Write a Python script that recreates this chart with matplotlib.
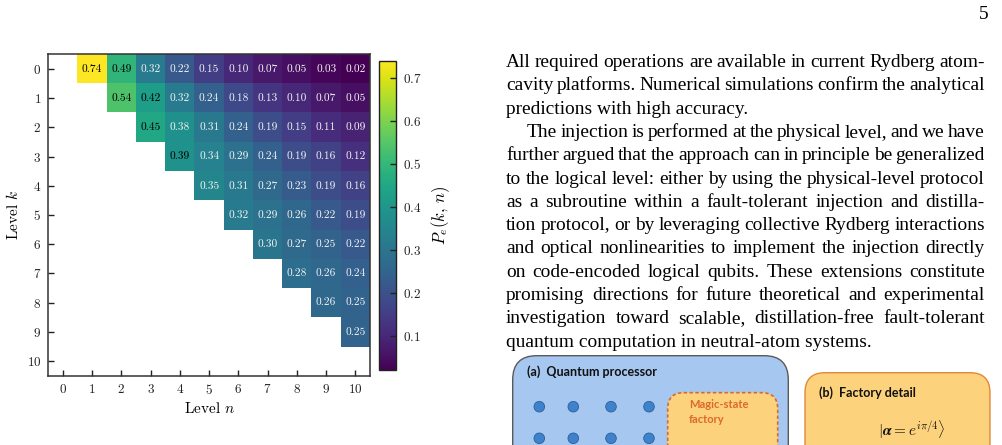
import numpy as np
import matplotlib
matplotlib.use("Agg")
import matplotlib.pyplot as plt
from matplotlib.patches import FancyBboxPatch, Circle

plt.rcParams['font.family'] = 'serif'
plt.rcParams['font.serif'] = ['cmr10']
plt.rcParams['mathtext.fontset'] = 'cm'
plt.rcParams['axes.formatter.use_mathtext'] = True

# Level n on x, level k on y
n_levels = list(range(11))
k_levels = list(range(11))

# P_e(k, n), row k holds values for n = k+1 ... 10
pe_row0 = [0.74, 0.49, 0.32, 0.22, 0.15, 0.10, 0.07, 0.05, 0.03, 0.02]
pe_row1 = [0.54, 0.42, 0.32, 0.24, 0.18, 0.13, 0.10, 0.07, 0.05]
pe_row2 = [0.45, 0.38, 0.31, 0.24, 0.19, 0.15, 0.11, 0.09]
pe_row3 = [0.39, 0.34, 0.29, 0.24, 0.19, 0.16, 0.12]
pe_row4 = [0.35, 0.31, 0.27, 0.23, 0.19, 0.16]
pe_row5 = [0.32, 0.29, 0.26, 0.22, 0.19]
pe_row6 = [0.30, 0.27, 0.25, 0.22]
pe_row7 = [0.28, 0.26, 0.24]
pe_row8 = [0.26, 0.25]
pe_row9 = [0.25]
pe_rows = [pe_row0, pe_row1, pe_row2, pe_row3, pe_row4,
           pe_row5, pe_row6, pe_row7, pe_row8, pe_row9]
cbar_ticks = [0.1, 0.2, 0.3, 0.4, 0.5, 0.6, 0.7]

# page text next to the figure
page_lines = [
    ("All required operations are available in current Rydberg atom-", True, False),
    ("cavity platforms.  Numerical simulations confirm the analytical", True, False),
    ("predictions with high accuracy.", False, False),
    ("The injection is performed at the physical level, and we have", True, True),
    ("further argued that the approach can in principle be generalized", True, False),
    ("to the logical level:  either by using the physical-level protocol", True, False),
    ("as a subroutine within a fault-tolerant injection and distilla-", True, False),
    ("tion protocol, or by leveraging collective Rydberg interactions", True, False),
    ("and optical nonlinearities to implement the injection directly", True, False),
    ("on code-encoded logical qubits.  These extensions constitute", True, False),
    ("promising directions for future theoretical and experimental", True, False),
    ("investigation toward scalable, distillation-free fault-tolerant", True, False),
    ("quantum computation in neutral-atom systems.", False, False),
]

W, H = 1002, 445
fig = plt.figure(figsize=(W / 100, H / 100), dpi=100)

# background axes in pixel units for page text and the diagram
bg = fig.add_axes([0, 0, 1, 1])
bg.set_xlim(0, W)
bg.set_ylim(H, 0)
bg.axis('off')

# heatmap
mat = np.full((len(k_levels), len(n_levels)), np.nan)
for k, row in enumerate(pe_rows):
    for j, v in enumerate(row):
        mat[k, k + 1 + j] = v

ax = fig.add_axes([48.3 / W, (H - 375.7) / H, 321.7 / W, 321.4 / H])
im = ax.imshow(np.ma.masked_invalid(mat), cmap='viridis', vmin=0.02, vmax=0.74,
               aspect='auto', interpolation='nearest')
for k in k_levels:
    for n in n_levels:
        v = mat[k, n]
        if not np.isnan(v):
            ax.text(n, k, f"{v:.2f}", ha='center', va='center', fontsize=8.2,
                    color='black' if v > 0.385 else '#f2f2f2')
ax.set_xticks(n_levels)
ax.set_yticks(k_levels)
ax.tick_params(direction='in', length=4, width=1, colors='#222', labelsize=9.5, pad=5)
for s in ax.spines.values():
    s.set_color('#333')
    s.set_linewidth(1.1)
ax.set_xlabel(r'Level $n$', fontsize=11, labelpad=3)
ax.set_ylabel(r'Level $k$', fontsize=11, labelpad=4)

cax = fig.add_axes([379.3 / W, (H - 370) / H, 16.4 / W, 309.3 / H])
cb = fig.colorbar(im, cax=cax)
cb.set_ticks(cbar_ticks)
cb.outline.set_edgecolor('#222')
cb.outline.set_linewidth(1.0)
cax.tick_params(direction='in', length=4, width=1, colors='#222', labelsize=9.5, pad=5)
cb.set_label(r'$P_e(k,\,n)$', fontsize=12, labelpad=6)

# page text, justified
renderer = fig.canvas.get_renderer()
serif = 'Liberation Serif'


def text_width(s, size):
    t = bg.text(0, 0, s, fontsize=size, family=serif)
    w = t.get_window_extent(renderer).width
    t.remove()
    return w


fs = 10 * 242 / text_width("predictions with high accuracy.", 10)
x_left, x_right, indent = 506, 985, 21
y0, dy = 67, 23.3
for i, (line, justify, ind) in enumerate(page_lines):
    y = y0 + i * dy
    x = x_left + (indent if ind else 0)
    if not justify:
        bg.text(x, y, line, fontsize=fs, family=serif, ha='left', va='baseline')
        continue
    words = line.split()
    widths = [text_width(w_, fs) for w_ in words]
    gap = (x_right - x - sum(widths)) / (len(words) - 1)
    for w_, wd in zip(words, widths):
        bg.text(x, y, w_, fontsize=fs, family=serif, ha='left', va='baseline')
        x += wd + gap

bg.text(989, 19, "5", fontsize=fs, family=serif, ha='right', va='baseline')

# schematic at the bottom right (cut by the page edge)
bg.add_patch(FancyBboxPatch((512.7, 355.7), 275.6, 200,
                            boxstyle="round,pad=0,rounding_size=24",
                            fc='#a6c7ef', ec='#5a5a5a', lw=1.0))
bg.add_patch(FancyBboxPatch((667.7, 392.7), 110, 150,
                            boxstyle="round,pad=0,rounding_size=16",
                            fc='#fdd27c', ec='#d9692b', lw=1.2, ls=(0, (2, 1.5))))
bg.add_patch(FancyBboxPatch((805, 372.7), 185, 180,
                            boxstyle="round,pad=0,rounding_size=20",
                            fc='#fdd27c', ec='#e3873a', lw=1.0))
for yy in [406.7, 438.3]:
    for xx in [539.3, 573.3, 611, 649]:
        bg.add_patch(Circle((xx, yy), 5.3, fc='#3f82cc', ec='#2b5f9c', lw=0.6))

sans = 'Lato'
bg.text(527, 376, "(a)  Quantum processor", fontsize=9, family=sans,
        weight='bold', ha='left', va='baseline', color='#111')
bg.text(689, 408, "Magic-state", fontsize=8, family=sans, weight='bold',
        ha='left', va='baseline', color='#dc6a2a')
bg.text(689, 422.7, "factory", fontsize=8, family=sans, weight='bold',
        ha='left', va='baseline', color='#dc6a2a')
bg.text(819, 396.7, "(b)  Factory detail", fontsize=9, family=sans,
        weight='bold', ha='left', va='baseline', color='#111')
bg.text(912, 436, r'$|\boldsymbol{\alpha} = e^{i\pi/4}\rangle$', fontsize=11,
        ha='center', va='baseline', color='#111')

fig.savefig("out.png", dpi=100)
